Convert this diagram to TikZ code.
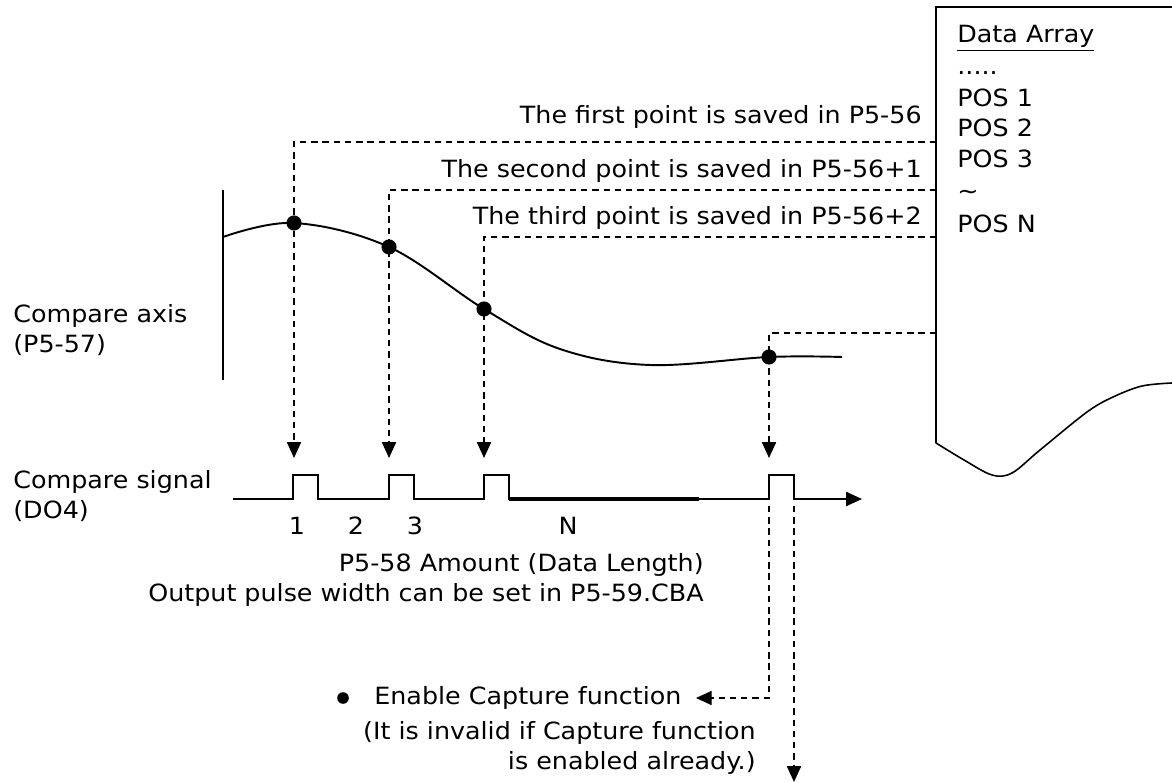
\documentclass[tikz,border=0pt]{standalone}
\usepackage{fontspec}
\setmainfont[FakeStretch=1.07]{DejaVu Sans}
\usetikzlibrary{arrows.meta}

\newcommand\fivedots{.....}
\tikzset{
  lbl/.style={inner sep=0pt},
  dot/.style={circle,fill,inner sep=0pt,minimum size=8.6pt},
  dashline/.style={line width=0.85pt,dash pattern=on 3.6pt off 2.8pt},
}

\begin{document}
\begin{tikzpicture}[x=0.02cm,y=-0.02cm,font=\fontsize{13.5}{17}\selectfont,
    >={Triangle[length=9pt,width=8pt]}]
  \useasboundingbox (0,0) rectangle (1172,783);

  % data array sheet
  \draw[line width=0.9pt] (1172,7) -- (936,7) -- (936,443)
    plot[smooth,tension=0.55] coordinates {(936,443) (964,460) (992,475) (1012,473)
      (1040,450) (1087,412) (1113,397) (1142,386) (1172,383)};
  \node[lbl,anchor=base west] (dat) at (957,43) {\underline{Data Array}};
  \foreach \t/\y [count=\i] in {\fivedots/75, POS 1/107, POS 2/137, POS 3/168,
      \textasciitilde/200, POS N/233}
    \node[lbl,anchor=base west] (pos\i) at (957,\y) {\t};

  % compare axis
  \node[lbl,anchor=west,align=left] (axis) at (13,330) {Compare axis\\(P5-57)};
  \draw[line width=1pt] (223,190) -- (223,380);
  \draw[line width=1.1pt] plot[smooth,tension=0.6] coordinates {(223,237) (294,223)
    (389,247) (484,309) (560,349) (650,365) (769,357) (842,357)};
  \node[dot] (p1) at (294,223) {};
  \node[dot] (p2) at (389,247) {};
  \node[dot] (p3) at (484,309) {};
  \node[dot] (p4) at (769,357) {};

  % saved points
  \node[lbl,anchor=base east] (sv1) at (922,124) {The first point is saved in P5-56};
  \node[lbl,anchor=base east] (sv2) at (922,178) {The second point is saved in P5-56+1};
  \node[lbl,anchor=base east] (sv3) at (922,225) {The third point is saved in P5-56+2};
  \coordinate (e1) at (936,142);
  \coordinate (e2) at (936,190);
  \coordinate (e3) at (936,237);
  \coordinate (e4) at (936,333);
  \coordinate (t1) at (294,458);
  \coordinate (t2) at (389,458);
  \coordinate (t3) at (484,458);
  \coordinate (t4) at (769,458);
  \foreach \i in {1,...,4}
    \draw[dashline,->] (e\i) -| (t\i);

  % compare signal
  \node[lbl,anchor=west,align=left] (sig) at (13,496) {Compare signal\\(DO4)};
  \draw[line width=0.9pt,->] (233,499)
    foreach \a in {293,389,484,769} { -- (\a,499) -- (\a,475) -- (\a+25,475) -- (\a+25,499) }
    -- (862,499);
  \draw[line width=2.2pt] (509,499) -- (699,499);
  \foreach \l/\x in {1/297, 2/356, 3/415, N/568}
    \node[lbl] (n\l) at (\x,526) {\l};
  \node[lbl,anchor=east,align=right] (amt) at (704,580)
    {P5-58 Amount (Data Length)\\Output pulse width can be set in P5-59.CBA};

  % capture notes
  \node[dot,minimum size=6.6pt] (bul) at (343,698) {};
  \node[lbl,anchor=west] (en) at (374,698) {Enable Capture function};
  \node[lbl,anchor=east,align=right] (inv) at (756,748)
    {(It is invalid if Capture function\\is enabled already.)};
  \coordinate (q4l) at (769,506);
  \coordinate (q4r) at (794,506);
  \coordinate (dn) at (794,782);
  \draw[dashline,->,shorten >=8pt] (q4l) |- (en.east);
  \draw[dashline,->] (q4r) -- (dn);
\end{tikzpicture}
\end{document}
